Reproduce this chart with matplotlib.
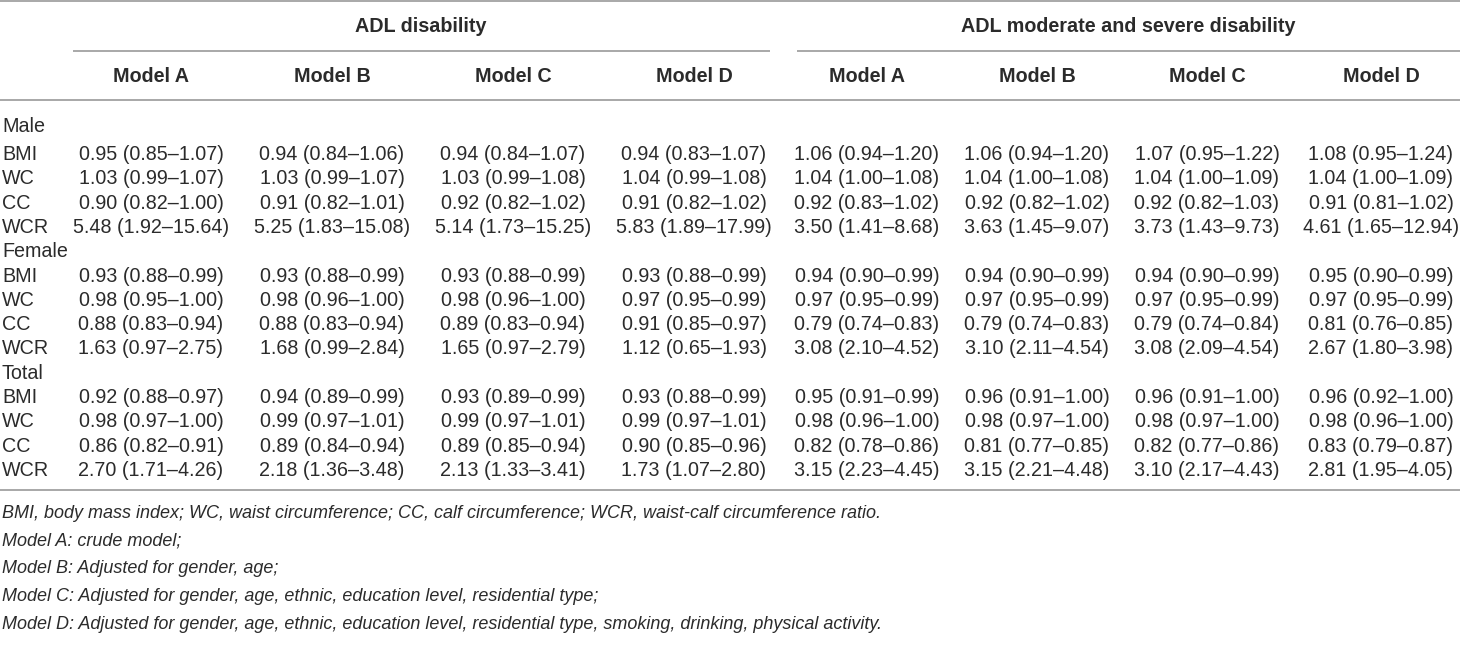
import matplotlib
matplotlib.use('Agg')
import matplotlib.pyplot as plt

plt.rcParams['font.family'] = ['Liberation Sans', 'DejaVu Sans']

# Table contents: OR (95% CI), one row per measure, columns Model A-D
group_titles = ['ADL disability', 'ADL moderate and severe disability']
model_labels = ['Model A', 'Model B', 'Model C', 'Model D']
measures = ['BMI', 'WC', 'CC', 'WCR']

male_adl = [
    ['0.95 (0.85–1.07)', '0.94 (0.84–1.06)', '0.94 (0.84–1.07)', '0.94 (0.83–1.07)'],
    ['1.03 (0.99–1.07)', '1.03 (0.99–1.07)', '1.03 (0.99–1.08)', '1.04 (0.99–1.08)'],
    ['0.90 (0.82–1.00)', '0.91 (0.82–1.01)', '0.92 (0.82–1.02)', '0.91 (0.82–1.02)'],
    ['5.48 (1.92–15.64)', '5.25 (1.83–15.08)', '5.14 (1.73–15.25)', '5.83 (1.89–17.99)'],
]
male_sev = [
    ['1.06 (0.94–1.20)', '1.06 (0.94–1.20)', '1.07 (0.95–1.22)', '1.08 (0.95–1.24)'],
    ['1.04 (1.00–1.08)', '1.04 (1.00–1.08)', '1.04 (1.00–1.09)', '1.04 (1.00–1.09)'],
    ['0.92 (0.83–1.02)', '0.92 (0.82–1.02)', '0.92 (0.82–1.03)', '0.91 (0.81–1.02)'],
    ['3.50 (1.41–8.68)', '3.63 (1.45–9.07)', '3.73 (1.43–9.73)', '4.61 (1.65–12.94)'],
]
female_adl = [
    ['0.93 (0.88–0.99)', '0.93 (0.88–0.99)', '0.93 (0.88–0.99)', '0.93 (0.88–0.99)'],
    ['0.98 (0.95–1.00)', '0.98 (0.96–1.00)', '0.98 (0.96–1.00)', '0.97 (0.95–0.99)'],
    ['0.88 (0.83–0.94)', '0.88 (0.83–0.94)', '0.89 (0.83–0.94)', '0.91 (0.85–0.97)'],
    ['1.63 (0.97–2.75)', '1.68 (0.99–2.84)', '1.65 (0.97–2.79)', '1.12 (0.65–1.93)'],
]
female_sev = [
    ['0.94 (0.90–0.99)', '0.94 (0.90–0.99)', '0.94 (0.90–0.99)', '0.95 (0.90–0.99)'],
    ['0.97 (0.95–0.99)', '0.97 (0.95–0.99)', '0.97 (0.95–0.99)', '0.97 (0.95–0.99)'],
    ['0.79 (0.74–0.83)', '0.79 (0.74–0.83)', '0.79 (0.74–0.84)', '0.81 (0.76–0.85)'],
    ['3.08 (2.10–4.52)', '3.10 (2.11–4.54)', '3.08 (2.09–4.54)', '2.67 (1.80–3.98)'],
]
total_adl = [
    ['0.92 (0.88–0.97)', '0.94 (0.89–0.99)', '0.93 (0.89–0.99)', '0.93 (0.88–0.99)'],
    ['0.98 (0.97–1.00)', '0.99 (0.97–1.01)', '0.99 (0.97–1.01)', '0.99 (0.97–1.01)'],
    ['0.86 (0.82–0.91)', '0.89 (0.84–0.94)', '0.89 (0.85–0.94)', '0.90 (0.85–0.96)'],
    ['2.70 (1.71–4.26)', '2.18 (1.36–3.48)', '2.13 (1.33–3.41)', '1.73 (1.07–2.80)'],
]
total_sev = [
    ['0.95 (0.91–0.99)', '0.96 (0.91–1.00)', '0.96 (0.91–1.00)', '0.96 (0.92–1.00)'],
    ['0.98 (0.96–1.00)', '0.98 (0.97–1.00)', '0.98 (0.97–1.00)', '0.98 (0.96–1.00)'],
    ['0.82 (0.78–0.86)', '0.81 (0.77–0.85)', '0.82 (0.77–0.86)', '0.83 (0.79–0.87)'],
    ['3.15 (2.23–4.45)', '3.15 (2.21–4.48)', '3.10 (2.17–4.43)', '2.81 (1.95–4.05)'],
]
sections = [('Male', male_adl, male_sev),
            ('Female', female_adl, female_sev),
            ('Total', total_adl, total_sev)]

footnotes = [
    'BMI, body mass index; WC, waist circumference; CC, calf circumference; WCR, waist-calf circumference ratio.',
    'Model A: crude model;',
    'Model B: Adjusted for gender, age;',
    'Model C: Adjusted for gender, age, ethnic, education level, residential type;',
    'Model D: Adjusted for gender, age, ethnic, education level, residential type, smoking, drinking, physical activity.',
]

# ---- layout (pixel canvas) ----
W, H = 1460, 669
fig = plt.figure(figsize=(W / 100, H / 100), dpi=100)
ax = fig.add_axes([0, 0, 1, 1])
ax.set_xlim(0, W)
ax.set_ylim(H, 0)
ax.axis('off')

TXT = '#2b2b2b'
LINE = '#9a9a9a'
FS = 14.2
FS_NOTE = 13.0

col_x = [151, 332, 513, 694, 867, 1037, 1207, 1381]
group_x = [421, 1128]
spans = [(73, 770), (797, 1460)]

# rules
for y in (1, 100, 490):
    ax.plot([0, W], [y, y], color=LINE, lw=1.2, solid_capstyle='butt')
for x0, x1 in spans:
    ax.plot([x0, x1], [51, 51], color=LINE, lw=1.2, solid_capstyle='butt')

# headers
for gx, title in zip(group_x, group_titles):
    ax.text(gx, 27, title, ha='center', va='center', fontsize=FS,
            fontweight='bold', color=TXT)
for j, cx in enumerate(col_x):
    ax.text(cx, 77, model_labels[j % 4], ha='center', va='center',
            fontsize=FS, fontweight='bold', color=TXT)

# body
row_h = 24.3
y = 127
for name, adl, sev in sections:
    ax.text(2, y, name, ha='left', va='center', fontsize=FS, color=TXT)
    y += row_h if name != 'Male' else 27.5
    for m, measure in enumerate(measures):
        ax.text(2, y, measure, ha='left', va='center', fontsize=FS, color=TXT)
        cells = adl[m] + sev[m]
        for cx, cell in zip(col_x, cells):
            ax.text(cx, y, cell, ha='center', va='center', fontsize=FS, color=TXT)
        y += row_h

# footnotes
fy = 513
for note in footnotes:
    ax.text(2, fy, note, ha='left', va='center', fontsize=FS_NOTE, style='italic',
            color=TXT)
    fy += 27.8

fig.savefig('out.png', dpi=100, facecolor='white')
